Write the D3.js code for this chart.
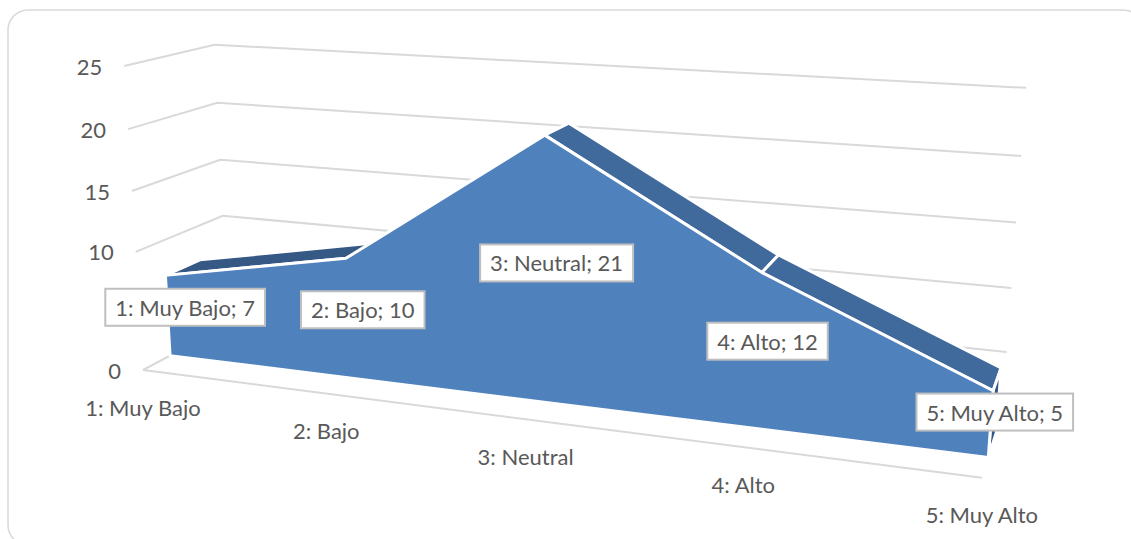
<!DOCTYPE html>
<html>
<head>
<meta charset="utf-8">
<script src="https://cdn.jsdelivr.net/npm/d3@7"></script>
<style>
  html, body { margin: 0; padding: 0; background: #fff; }
  svg { display: block; }
  text { font-family: Lato, "Liberation Sans", sans-serif; fill: #595959; }
</style>
</head>
<body>
<svg id="chart" width="1131" height="539"></svg>
<script>
// ---- data ----
const categories = ["1: Muy Bajo", "2: Bajo", "3: Neutral", "4: Alto", "5: Muy Alto"];
const values = [7, 10, 21, 12, 5];
const valueTicks = [0, 5, 10, 15, 20, 25];
const valueMax = 25;

// ---- layout & style ----
const width = 1131, height = 539;
const fontSize = 22;
const gridColor = "#d9d9d9";
const frontColor = "#4f81bd";
const topRiseColor = "#365884";
const topFallColor = "#40699c";
const sideColor = "#2f5788";
const edgeWidth = 3;
const seriesFrontZ = 0.3, seriesBackZ = 0.7, labelZ = 0.5;

// Perspective of the plot box (unit cube: x = categories, y = values, z = depth).
// Image of the front-bottom-left corner plus the vanishing point of each box
// axis with its homogeneous weight.
const origin = [143, 370];
const vanishX = { p: [-4222, -191], w: -0.1612 };
const vanishY = { p: [535, 6700], w: -0.04582 };
const vanishZ = { p: [1193, -186], w: 0.0881 };

function project(x, y, z) {
  const a = vanishX.w * x, b = vanishY.w * y, c = vanishZ.w * z;
  const px = a * vanishX.p[0] + b * vanishY.p[0] + c * vanishZ.p[0] + origin[0];
  const py = a * vanishX.p[1] + b * vanishY.p[1] + c * vanishZ.p[1] + origin[1];
  const pw = a + b + c + 1;
  return [px / pw, py / pw];
}

const xPos = d3.scalePoint().domain(categories).range([0, 1]);
const yPos = d3.scaleLinear().domain([0, valueMax]).range([0, 1]);

const svg = d3.select("#chart");
const line = d3.line();

// chart frame
svg.append("rect")
  .attr("x", 8).attr("y", 10)
  .attr("width", 1135).attr("height", 535)
  .attr("rx", 20).attr("ry", 20)
  .attr("fill", "#fff")
  .attr("stroke", gridColor)
  .attr("stroke-width", 1.5);

// gridlines on the side wall (x = 0) and back wall (z = 1)
const grid = svg.append("g");
grid.selectAll("path.grid")
  .data(valueTicks)
  .join("path")
  .attr("class", "grid")
  .attr("d", v => line([project(0, yPos(v), 0), project(0, yPos(v), 1), project(1, yPos(v), 1)]))
  .attr("fill", "none")
  .attr("stroke", gridColor)
  .attr("stroke-width", 2);

// category axis line along the front of the floor
grid.append("path")
  .attr("d", line([project(0, 0, 0), project(1, 0, 0)]))
  .attr("fill", "none")
  .attr("stroke", gridColor)
  .attr("stroke-width", 2);

// value axis labels
svg.append("g").selectAll("text")
  .data(valueTicks)
  .join("text")
  .attr("x", v => project(0, yPos(v), 0)[0] - 22)
  .attr("y", v => project(0, yPos(v), 0)[1])
  .attr("text-anchor", "end")
  .attr("dominant-baseline", "central")
  .attr("font-size", fontSize)
  .text(d => d);

// category labels
svg.append("g").selectAll("text")
  .data(categories)
  .join("text")
  .attr("x", c => project(xPos(c), 0, 0)[0])
  .attr("y", c => project(xPos(c), 0, 0)[1] + 37)
  .attr("text-anchor", "middle")
  .attr("dominant-baseline", "central")
  .attr("font-size", fontSize)
  .text(d => d);

// ---- 3D area slab ----
const ridge = categories.map((c, i) => [xPos(c), yPos(values[i])]);
const last = ridge.length - 1;

const faces = [];
// top faces, one per segment
for (let i = 0; i < last; i++) {
  const [x0, y0] = ridge[i], [x1, y1] = ridge[i + 1];
  faces.push({
    pts: [[x0, y0, seriesBackZ], [x1, y1, seriesBackZ], [x1, y1, seriesFrontZ], [x0, y0, seriesFrontZ]],
    fill: y1 >= y0 ? topRiseColor : topFallColor
  });
}
// end caps
faces.push({
  pts: [[1, ridge[last][1], seriesBackZ], [1, 0, seriesBackZ], [1, 0, seriesFrontZ], [1, ridge[last][1], seriesFrontZ]],
  fill: sideColor
});
faces.push({
  pts: [[0, ridge[0][1], seriesFrontZ], [0, 0, seriesFrontZ], [0, 0, seriesBackZ], [0, ridge[0][1], seriesBackZ]],
  fill: sideColor
});

// signed screen area; faces wound clockwise on screen face the viewer
function screenArea(p) {
  let s = 0;
  for (let i = 0; i < p.length; i++) {
    const a = p[i], b = p[(i + 1) % p.length];
    s += a[0] * b[1] - b[0] * a[1];
  }
  return s / 2;
}

const visible = faces
  .map(f => ({ fill: f.fill, poly: f.pts.map(q => project(...q)) }))
  .filter(f => screenArea(f.poly) > 0);

const frontPoly = ridge.map(([x, y]) => project(x, y, seriesFrontZ))
  .concat([project(1, 0, seriesFrontZ), project(0, 0, seriesFrontZ)]);

const series = svg.append("g");
series.selectAll("path.side")
  .data(visible)
  .join("path")
  .attr("class", "side")
  .attr("d", f => line(f.poly) + "Z")
  .attr("fill", f => f.fill)
  .attr("stroke", "#fff")
  .attr("stroke-width", edgeWidth)
  .attr("stroke-linejoin", "round");

series.append("path")
  .attr("d", line(frontPoly) + "Z")
  .attr("fill", frontColor)
  .attr("stroke", "#fff")
  .attr("stroke-width", edgeWidth)
  .attr("stroke-linejoin", "round");

// ---- data labels ----
const labels = svg.append("g").selectAll("g")
  .data(categories)
  .join("g")
  .attr("transform", (c, i) => {
    const [lx, ly] = project(xPos(c), yPos(values[i] / 2), labelZ);
    return `translate(${lx},${ly})`;
  });

labels.append("text")
  .attr("text-anchor", "middle")
  .attr("dominant-baseline", "central")
  .attr("font-size", fontSize)
  .text((c, i) => `${c}; ${values[i]}`);

labels.each(function () {
  const g = d3.select(this);
  const w = g.select("text").node().getComputedTextLength() + 20;
  const h = 37;
  g.insert("rect", "text")
    .attr("x", -w / 2).attr("y", -h / 2)
    .attr("width", w).attr("height", h)
    .attr("fill", "#fff")
    .attr("stroke", "#bfbfbf")
    .attr("stroke-width", 2);
});
</script>
</body>
</html>
